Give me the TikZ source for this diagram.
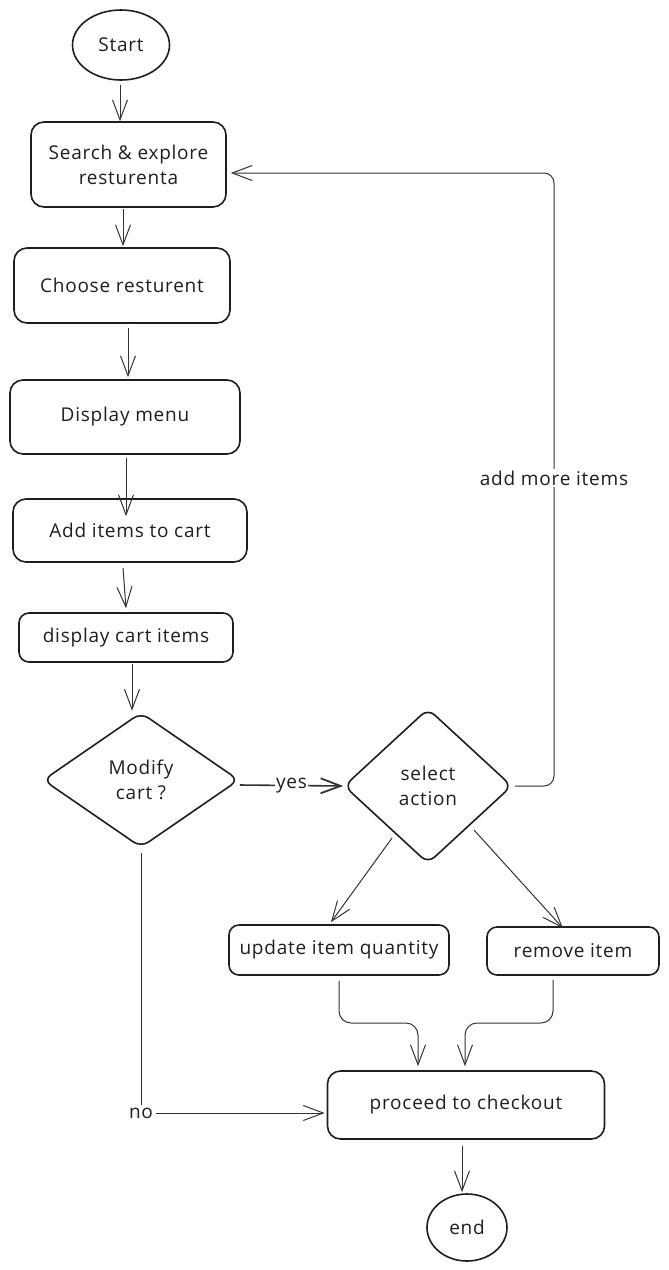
\documentclass[tikz,border=0pt]{standalone}
\usepackage{fontspec}
\setmainfont{Open Sans}[LetterSpace=4]
\usetikzlibrary{shapes.geometric,arrows.meta}
\definecolor{ink}{HTML}{1E1E1E}
\definecolor{wire}{HTML}{333333}
\begin{document}
\begin{tikzpicture}[x=1pt,y=-1pt,
  font=\fontsize{19}{25}\selectfont, text=ink,
  box/.style={draw=ink, line width=1.6pt, rounded corners=13pt, inner sep=0pt, align=center},
  oval/.style={draw=ink, line width=1.6pt, ellipse, inner sep=0pt},
  decision/.style={draw=ink, line width=1.6pt, diamond, rounded corners=9pt, inner sep=0pt, align=center},
  arr/.style={draw=wire, line width=1pt, -{Straight Barb[length=20pt,width=15pt,line width=1pt]}},
  boldarr/.style={draw=wire, line width=1.6pt, -{Straight Barb[length=20pt,width=15pt,line width=1.8pt]}},
  wirelabel/.style={fill=white, inner sep=2pt, text=ink}]
\useasboundingbox (0,0) rectangle (669,1270);
% nodes
\node[oval, minimum width=97pt, minimum height=70pt] (start) at (121,45) {Start};
\node[box, minimum width=195pt, minimum height=85pt] (search) at (128.5,164.5) {Search \& explore\\resturenta};
\node[box, minimum width=216pt, minimum height=75pt] (choose) at (122,285.5) {Choose resturent};
\node[box, minimum width=230pt, minimum height=74pt] (menu) at (125,417) {Display menu};
\node[box, minimum width=234pt, minimum height=63pt] (add) at (130,530.5) {Add items to cart};
\node[box, minimum width=214pt, minimum height=49pt, rounded corners=10pt] (cart) at (126,637.5) {display cart items};
\node[decision, minimum width=196pt, minimum height=135pt] (modify) at (141,780) {Modify\\cart ?};
\node[decision, minimum width=168pt, minimum height=155pt] (select) at (428,786) {select\\action};
\node[box, minimum width=220pt, minimum height=50pt, rounded corners=10pt] (update) at (339,950) {update item quantity};
\node[box, minimum width=172pt, minimum height=48pt, rounded corners=10pt] (remove) at (573,951) {remove item};
\node[box, minimum width=277pt, minimum height=68pt] (proceed) at (466,1105) {proceed to checkout};
\node[oval, minimum width=80pt, minimum height=67pt] (end) at (467,1227.5) {end};
% connectors
\draw[arr] ([yshift=-4pt]start.south -| 120,0) -- (search.north -| 120,0);
\draw[arr] ([yshift=-1pt]search.south -| 123,0) -- ([yshift=1pt]choose.north -| 123,0);
\draw[arr] ([yshift=-4pt]choose.south -| 128,0) -- ([yshift=2pt]menu.north -| 128,0);
\draw[arr] ([yshift=-3pt]menu.south -| 126,0) -- ([yshift=-18pt]add.north -| 126,0);
\draw[arr] ([yshift=-5pt]add.south -| 123,0) -- ([yshift=4pt]cart.north -| 126,0);
\draw[arr] ([yshift=-1pt]cart.south -| 132,0) -- ([yshift=1pt]modify.north -| 132,0);
\draw[boldarr] (modify.east |- 0,785) -- node[wirelabel, inner sep=1pt] (yes) {yes} (select.west |- 0,786);
\coordinate (loopa) at (554,786);
\coordinate (loopb) at (554,173);
\draw[arr, rounded corners=10pt] ([xshift=2pt]select.east) -- (loopa) -- (loopb) -- ([xshift=4pt]search.east |- loopb);
\node[wirelabel] (more) at (554,478) {add more items};
\draw[arr] (392,838) -- ([yshift=2pt]update.north -| 331,0);
\draw[arr] (474,830) -- ([yshift=-2pt]remove.north -| 563,0);
\coordinate (ua) at (339,1023);
\coordinate (ra) at (553,1023);
\draw[arr, rounded corners=12pt] ([yshift=-5pt]update.south -| ua) -- (ua) -- (418,1023) -- ([yshift=4pt]proceed.north -| 418,0);
\draw[arr, rounded corners=12pt] ([yshift=-4pt]remove.south -| ra) -- (ra) -- (465,1023) -- ([yshift=4pt]proceed.north -| 465,0);
\coordinate (nocorner) at (141,1113);
\draw[arr] ([yshift=-5pt]modify.south -| nocorner) -- (nocorner) -- ([xshift=-2pt]proceed.west |- nocorner);
\node[wirelabel, inner sep=3pt] (no) at (nocorner) {no};
\draw[arr] ([yshift=-6pt]proceed.south -| 462,0) -- ([yshift=1pt]end.north -| 462,0);
\end{tikzpicture}
\end{document}
